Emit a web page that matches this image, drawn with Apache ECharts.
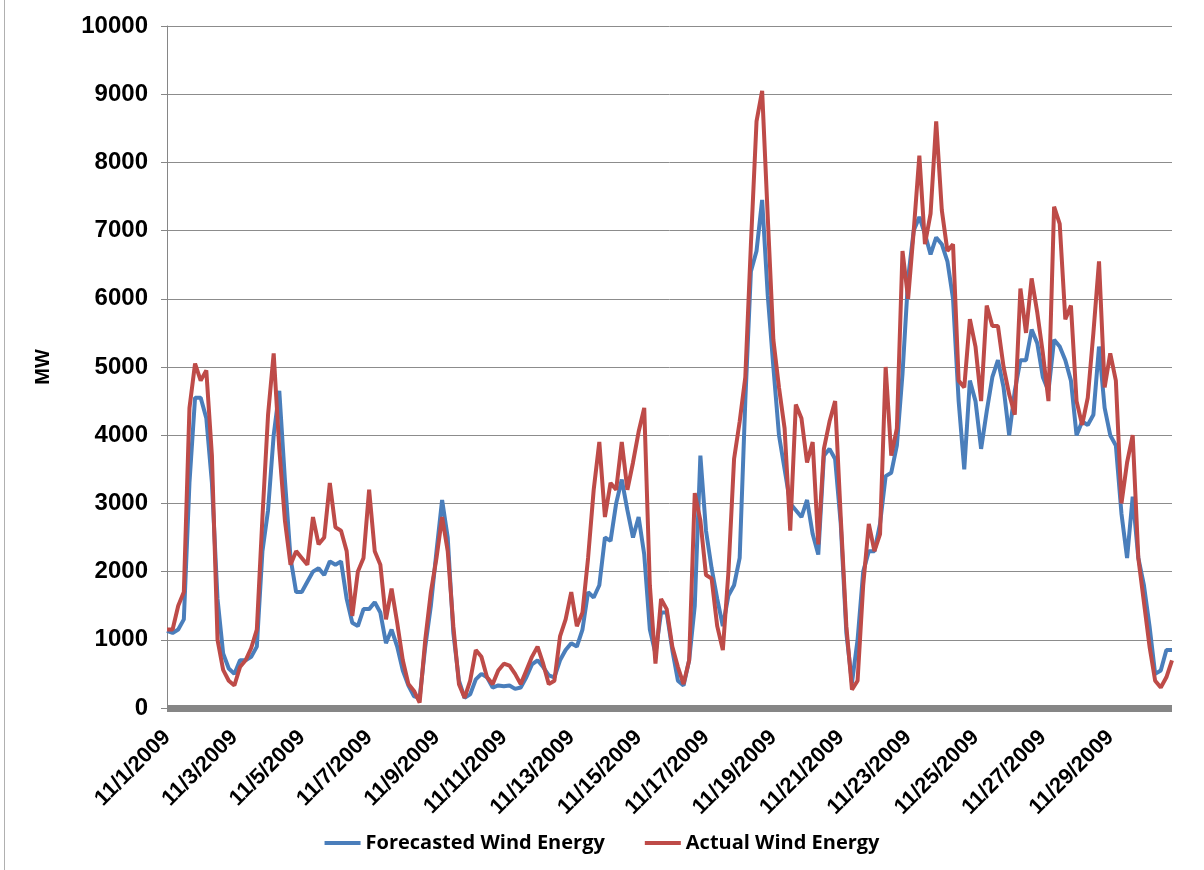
<!DOCTYPE html>
<html>
<head>
<meta charset="utf-8">
<title>Forecasted vs Actual Wind Energy</title>
<script src="https://cdn.jsdelivr.net/npm/echarts@6/dist/echarts.min.js"></script>
<style>
  html, body { margin: 0; padding: 0; background: #fff; }
  #main { width: 1204px; height: 870px; }
  .edge { position: absolute; left: 4px; top: 0; width: 1px; height: 870px; background: #b0b0b0; }
</style>
</head>
<body>
<div class="edge"></div>
<div id="main"></div>
<script>
// days of november 2009, six readings per day (every 4 hours)
var days = [];
for (var d = 1; d <= 30; d++) days.push(d);
var hours = [0, 4, 8, 12, 16, 20];

// forecasted wind energy, MW
var forecast = [
  1130, 1100, 1150, 1300, 3300, 4550,
  4550, 4250, 3300, 1600, 800, 580,
  500, 700, 700, 750, 900, 2300,
  2900, 4000, 4650, 3350, 2200, 1700,
  1700, 1850, 2000, 2050, 1950, 2150,
  2100, 2150, 1600, 1250, 1200, 1450,
  1450, 1550, 1400, 950, 1150, 900,
  550, 330, 170, 150, 900, 1500,
  2300, 3050, 2500, 1100, 400, 150,
  200, 420, 500, 450, 300, 330,
  320, 330, 280, 300, 450, 640,
  700, 600, 480, 450, 700, 850,
  950, 900, 1150, 1700, 1620, 1800,
  2500, 2450, 3000, 3350, 2900, 2500,
  2800, 2250, 1150, 800, 1400, 1400,
  850, 400, 330, 700, 1500, 3700,
  2600, 2050, 1600, 1200, 1650, 1800,
  2200, 4500, 6400, 6700, 7450, 6050,
  5000, 4000, 3500, 3000, 2900, 2800,
  3050, 2550, 2250, 3700, 3800, 3650,
  2700, 1100, 370, 1000, 2000, 2300,
  2300, 2700, 3400, 3450, 3850, 4900,
  6300, 7000, 7200, 6950, 6650, 6900,
  6800, 6550, 6000, 4500, 3500, 4800,
  4500, 3800, 4350, 4850, 5100, 4700,
  4000, 4650, 5100, 5100, 5550, 5350,
  4850, 4650, 5400, 5300, 5100, 4800,
  4000, 4200, 4150, 4300, 5300, 4400,
  4000, 3850, 2850, 2200, 3100, 2200,
  1800, 1200, 500, 550, 850, 850
];

// actual wind energy, MW
var actual = [
  1150, 1150, 1500, 1700, 4400, 5050,
  4800, 4950, 3700, 1000, 560, 400,
  330, 600, 700, 880, 1150, 2800,
  4300, 5200, 3800, 2750, 2100, 2300,
  2200, 2100, 2800, 2400, 2500, 3300,
  2650, 2600, 2300, 1350, 2000, 2200,
  3200, 2300, 2100, 1300, 1750, 1250,
  700, 350, 250, 80, 1000, 1700,
  2200, 2800, 2300, 1200, 350, 150,
  400, 850, 750, 450, 350, 550,
  650, 620, 500, 350, 550, 750,
  900, 650, 350, 400, 1050, 1300,
  1700, 1200, 1400, 2200, 3200, 3900,
  2800, 3300, 3200, 3900, 3200, 3600,
  4050, 4400, 1800, 650, 1600, 1450,
  900, 600, 350, 700, 3150, 2750,
  1950, 1900, 1200, 850, 2000, 3650,
  4200, 4850, 6800, 8600, 9050, 7200,
  5400, 4700, 4100, 2600, 4450, 4250,
  3600, 3900, 2400, 3800, 4200, 4500,
  2800, 1200, 270, 400, 1800, 2700,
  2300, 2550, 5000, 3700, 4100, 6700,
  6000, 7000, 8100, 6800, 7250, 8600,
  7300, 6700, 6800, 4800, 4700, 5700,
  5300, 4500, 5900, 5600, 5600, 5000,
  4600, 4300, 6150, 5500, 6300, 5800,
  5200, 4500, 7350, 7100, 5700, 5900,
  4500, 4150, 4550, 5500, 6550, 4700,
  5200, 4800, 3000, 3600, 4000, 2200,
  1550, 900, 400, 300, 450, 700
];

var categories = [];
days.forEach(function (d) {
  hours.forEach(function (h) {
    categories.push('11/' + d + '/2009 ' + h + ':00');
  });
});

var labelFont = "'Liberation Sans', Arial, sans-serif";

var chart = echarts.init(document.getElementById('main'));
chart.setOption({
  animation: false,
  color: ['#4a7ebb', '#be4b48'],
  grid: {
    left: 167,
    right: 32,
    top: 26,
    bottom: 162
  },
  legend: {
    bottom: 12,
    left: 'center',
    itemWidth: 36,
    itemHeight: 4,
    itemGap: 40,
    icon: 'rect',
    textStyle: {
      fontFamily: "'Open Sans', sans-serif",
      fontWeight: 'bold',
      fontSize: 20,
      color: '#000'
    },
    data: ['Forecasted Wind Energy', 'Actual Wind Energy']
  },
  xAxis: {
    type: 'category',
    boundaryGap: false,
    data: categories,
    axisLine: {
      lineStyle: { color: '#868686', width: 7, cap: 'butt' }
    },
    axisTick: { show: false },
    axisLabel: {
      interval: 11,
      rotate: 45,
      margin: 26,
      fontFamily: labelFont,
      fontWeight: 'bold',
      fontSize: 22,
      color: '#000',
      formatter: function (v) {
        return v.split(' ')[0];
      }
    }
  },
  yAxis: {
    type: 'value',
    min: 0,
    max: 10000,
    interval: 1000,
    name: 'MW',
    nameLocation: 'middle',
    nameGap: 114,
    nameRotate: 90,
    nameTextStyle: {
      fontFamily: labelFont,
      fontWeight: 'bold',
      fontSize: 20,
      color: '#000'
    },
    axisLine: {
      show: true,
      lineStyle: { color: '#868686', width: 1 }
    },
    axisTick: {
      show: true,
      length: 6,
      lineStyle: { color: '#868686' }
    },
    axisLabel: {
      margin: 19,
      fontFamily: labelFont,
      fontWeight: 'bold',
      fontSize: 24,
      color: '#000',
      formatter: function (v) {
        return String(v);
      }
    },
    splitLine: {
      lineStyle: { color: '#8c8c8c', width: 1 }
    }
  },
  series: [
    {
      name: 'Forecasted Wind Energy',
      type: 'line',
      showSymbol: false,
      lineStyle: { width: 4 },
      data: forecast
    },
    {
      name: 'Actual Wind Energy',
      type: 'line',
      showSymbol: false,
      lineStyle: { width: 4 },
      data: actual
    }
  ]
});
</script>
</body>
</html>
